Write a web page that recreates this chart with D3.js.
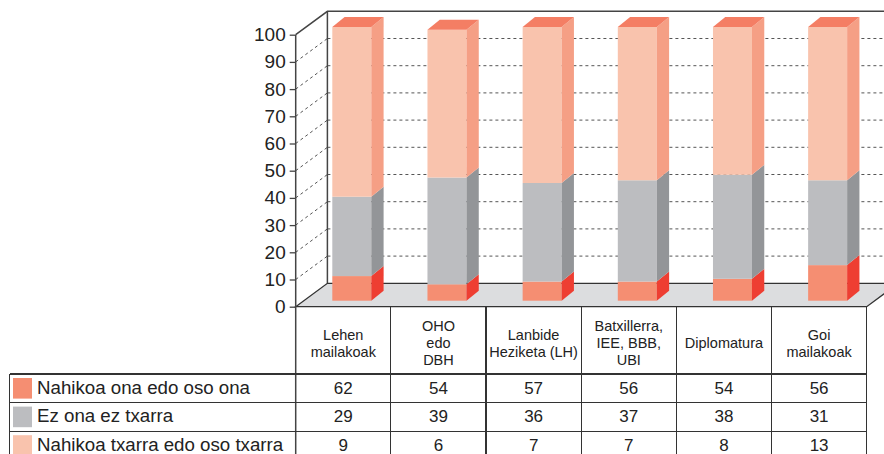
<!DOCTYPE html>
<html lang="eu">
<head>
<meta charset="UTF-8">
<title>Stacked 3D bars</title>
<script src="https://cdn.jsdelivr.net/npm/d3@7"></script>
<style>
body{ margin:0; background:#fff; }
svg{ display:block; font-family:"Liberation Sans", Arial, sans-serif; }
.grid{ stroke:#555; stroke-width:1; stroke-dasharray:3,3; fill:none; }
.frame{ stroke:#444; stroke-width:1.5; fill:none; }
.tbl{ stroke:#333; stroke-width:1.2; fill:none; shape-rendering:crispEdges; }
.tick text{ font-size:19px; fill:#222; }
</style>
</head>
<body>
<script>
// data
var categories = ["Lehen\nmailakoak", "OHO\nedo\nDBH", "Lanbide\nHeziketa (LH)", "Batxillerra,\nIEE, BBB,\nUBI", "Diplomatura", "Goi\nmailakoak"];
var ona    = [62, 54, 57, 56, 54, 56];
var ezOna  = [29, 39, 36, 37, 38, 31];
var txarra = [9, 6, 7, 7, 8, 13];
var seriesNames = ["Nahikoa ona edo oso ona", "Ez ona ez txarra", "Nahikoa txarra edo oso txarra"];
var yTicks = [0, 10, 20, 30, 40, 50, 60, 70, 80, 90, 100];

var W = 884, H = 454;
var svg = d3.select("body").append("svg").attr("width", W).attr("height", H);

// geometry
var x0 = 295.7, x1 = 866.7;
var floorY = 306.7;
var depth = {dx: 31.7, dy: -23.4};
var barDepth = {dx: 12.3, dy: -10};
var x = d3.scaleBand().domain(d3.range(categories.length)).range([x0, x1]).paddingInner(0).paddingOuter(0);
var y = d3.scaleLinear().domain([0, 100]).range([floorY, 34.7]);
var yBar = d3.scaleLinear().domain([0, 100]).range([300.7, 27]);
var barOff = 36.6, barW = 39;

// colours (by stack position, bottom to top)
var faceCol = ["#f58e72", "#bcbdc0", "#f9c3ad"];
var sideCol = ["#ee3e32", "#939598", "#f59f85"];
var topCol = "#f47e64";
var swatch = ["#f58e72", "#bcbdc0", "#f9c3ad"];

// left wall diagonals + back wall grid
var gw = svg.append("g");
gw.selectAll("line.diag").data(yTicks.filter(function(d){ return d > 0 && d < 100; }))
  .enter().append("line").attr("class", "grid")
  .attr("x1", x0).attr("y1", function(d){ return y(d); })
  .attr("x2", x0 + depth.dx).attr("y2", function(d){ return y(d) + depth.dy; });
gw.selectAll("line.back").data(yTicks.filter(function(d){ return d > 0 && d < 100; }))
  .enter().append("line").attr("class", "grid")
  .attr("x1", x0 + depth.dx).attr("y1", function(d){ return y(d) + depth.dy; })
  .attr("x2", W + 40).attr("y2", function(d){ return y(d) + depth.dy; });

// frame: top edge, back-left vertical, diagonal at 100
gw.append("path").attr("class", "frame")
  .attr("d", "M" + x0 + "," + y(100) + "L" + (x0 + depth.dx) + "," + (y(100) + depth.dy) +
             "L" + (W + 40) + "," + (y(100) + depth.dy));
gw.append("line").attr("class", "frame")
  .attr("x1", x0 + depth.dx).attr("y1", y(100) + depth.dy)
  .attr("x2", x0 + depth.dx).attr("y2", y(0) + depth.dy);

// floor
svg.append("path")
  .attr("d", "M" + x0 + "," + floorY + "L" + (x0 + depth.dx) + "," + (floorY + depth.dy) +
             "L" + (x1 + depth.dx) + "," + (floorY + depth.dy) + "L" + x1 + "," + floorY + "Z")
  .attr("fill", "#dcdddf").attr("stroke", "#333").attr("stroke-width", 1.3);

// axis
var axis = d3.axisLeft(y).tickValues(yTicks).tickSize(6).tickPadding(4);
var ga = svg.append("g").attr("transform", "translate(" + x0 + ",0)").call(axis);
ga.select(".domain").remove();
ga.selectAll(".tick line").attr("stroke", "#444").attr("stroke-width", 1.3);
svg.append("line").attr("class", "frame")
  .attr("x1", x0).attr("y1", y(100)).attr("x2", x0).attr("y2", H);

// bars
var stacks = categories.map(function(c, i){ return [txarra[i], ezOna[i], ona[i]]; });
var gb = svg.append("g");
stacks.forEach(function(vals, i){
  var bx = x(i) + barOff, acc = 0;
  var g = gb.append("g");
  vals.forEach(function(v, k){
    var yb = yBar(acc), yt = yBar(acc + v);
    acc += v;
    g.append("rect").attr("x", bx).attr("y", yt).attr("width", barW).attr("height", yb - yt)
      .attr("fill", faceCol[k]);
    g.append("path")
      .attr("d", "M" + (bx + barW) + "," + yb + "L" + (bx + barW + barDepth.dx) + "," + (yb + barDepth.dy) +
                 "L" + (bx + barW + barDepth.dx) + "," + (yt + barDepth.dy) + "L" + (bx + barW) + "," + yt + "Z")
      .attr("fill", sideCol[k]);
  });
  var yt = yBar(acc);
  g.append("path")
    .attr("d", "M" + bx + "," + yt + "L" + (bx + barDepth.dx) + "," + (yt + barDepth.dy) +
               "L" + (bx + barW + barDepth.dx) + "," + (yt + barDepth.dy) + "L" + (bx + barW) + "," + yt + "Z")
    .attr("fill", topCol);
});

// table
var rowTop = 374, rowH = 28.6, tblLeft = 9.5;
var gt = svg.append("g");
gt.selectAll("line.col").data(d3.range(1, categories.length + 1))
  .enter().append("line").attr("class", "tbl")
  .attr("x1", function(d){ return x0 + d * x.step(); }).attr("y1", floorY)
  .attr("x2", function(d){ return x0 + d * x.step(); }).attr("y2", H);
gt.selectAll("line.row").data(d3.range(0, 3))
  .enter().append("line").attr("class", "tbl")
  .attr("x1", tblLeft).attr("x2", x1)
  .attr("y1", function(d){ return rowTop + d * rowH; }).attr("y2", function(d){ return rowTop + d * rowH; });
gt.append("line").attr("class", "tbl").attr("x1", tblLeft).attr("x2", tblLeft).attr("y1", rowTop).attr("y2", H);

// header labels
categories.forEach(function(c, i){
  var lines = c.split("\n");
  var cx = x(i) + x.step() / 2;
  var mid = 348, lh = 17;
  var t = gt.append("text").attr("text-anchor", "middle").attr("font-size", "14.5px").attr("fill", "#222");
  lines.forEach(function(l, j){
    t.append("tspan").attr("x", cx).attr("y", mid + (j - (lines.length - 1) / 2) * lh).text(l);
  });
});

// legend rows + values
var rows = [ona, ezOna, txarra];
rows.forEach(function(vals, r){
  var ry = rowTop + r * rowH;
  gt.append("rect").attr("x", 13).attr("y", ry + 4).attr("width", 19).attr("height", rowH - 8).attr("fill", swatch[r]);
  gt.append("text").attr("x", 37).attr("y", ry + rowH / 2 + 5.5).attr("font-size", "18.7px").attr("fill", "#222")
    .text(seriesNames[r]);
  vals.forEach(function(v, i){
    gt.append("text").attr("x", x(i) + x.step() / 2).attr("y", ry + rowH / 2 + 5.5)
      .attr("text-anchor", "middle").attr("font-size", "17px").attr("fill", "#222").text(v);
  });
});
</script>
</body>
</html>
